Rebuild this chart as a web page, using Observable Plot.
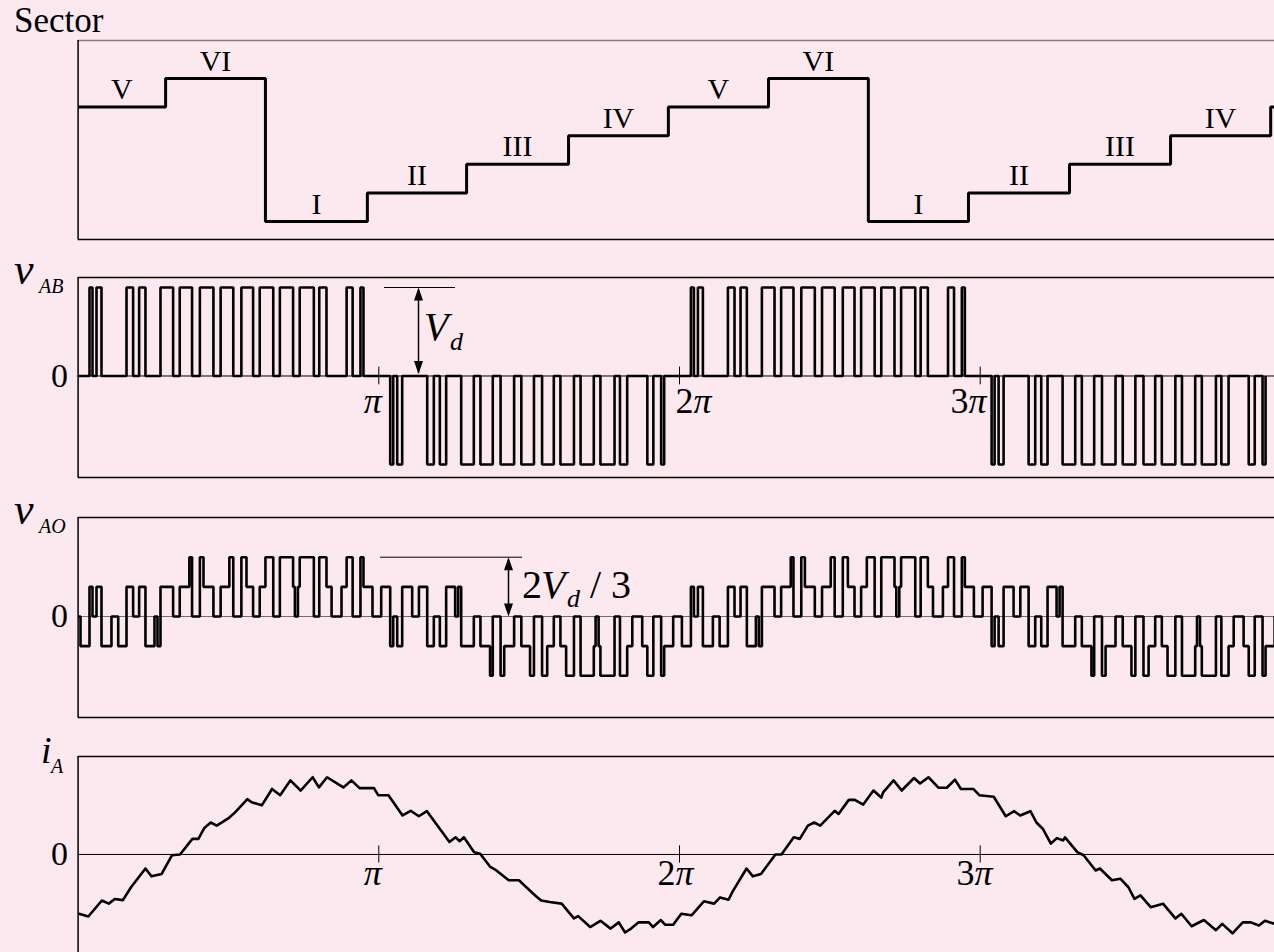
<!DOCTYPE html>
<html><head><meta charset="utf-8">
<script src="https://cdn.jsdelivr.net/npm/d3@7"></script>
<script src="https://cdn.jsdelivr.net/npm/@observablehq/plot@0.6"></script>
<style>
html,body{margin:0;padding:0;background:#fbe9ef;overflow:hidden;}
#wrap{position:relative;width:1274px;height:952px;overflow:hidden;font-family:"Liberation Serif","Times New Roman",serif;color:#000;}
.lbl{position:absolute;white-space:nowrap;line-height:1;}
</style></head><body><div id="wrap"></div>
<script>
// ---------- data (x in units of pi) ----------
const sectorT = [0, 0.291, 0.623, 0.962, 1.292, 1.631, 1.963, 2.296, 2.628, 2.961, 3.297, 3.633, 3.966];
const sectorV = [5, 6, 1, 2, 3, 4, 5, 6, 1, 2, 3, 4, 5];
const sectorLabel = ["V","VI","I","II","III","IV","V","VI","I","II","III","IV","V"];

// v_AB: pulse edges in the first half cycle (repeats with alternating sign each half cycle)
const vabRise = [0.0379, 0.0612, 0.161, 0.203, 0.274, 0.338, 0.405, 0.474, 0.543, 0.604, 0.671, 0.737, 0.802, 0.893, 0.939];
const vabFall = [0.0479, 0.0778, 0.183, 0.224, 0.316, 0.379, 0.450, 0.516, 0.582, 0.649, 0.715, 0.784, 0.826, 0.913, 0.949];
const halfCycles = [0, 1, 2, 3];

// v_AO: steps (x, level in Vd/3) in the first half cycle
const vaoHalf = [
  [0, 0], [0.008, -1], [0.0379, 1], [0.0479, 0], [0.0612, 1], [0.0778, -1], [0.111, 0], [0.1334, -1],
  [0.161, 1], [0.183, 0], [0.203, 1], [0.224, -1], [0.254, 0], [0.264, -1], [0.274, 1], [0.316, 0],
  [0.338, 1], [0.370, 2], [0.379, 0], [0.405, 2], [0.417, 1], [0.450, 0], [0.474, 1], [0.503, 2],
  [0.516, 0], [0.543, 2], [0.560, 1], [0.582, 0], [0.604, 1], [0.623, 2], [0.649, 0], [0.671, 2],
  [0.715, 1], [0.721, 0], [0.731, 1], [0.737, 2], [0.784, 0], [0.802, 2], [0.826, 1], [0.843, 0],
  [0.876, 1], [0.893, 2], [0.913, 0], [0.939, 2], [0.949, 1], [0.979, 0]
];

// i_A samples (x, current in per-unit of the peak)
const iA = [
  [0.003,-0.76],[0.034,-0.795],[0.079,-0.59],[0.102,-0.63],[0.122,-0.57],[0.149,-0.585],[0.176,-0.42],[0.224,-0.18],
  [0.244,-0.28],[0.278,-0.25],[0.312,-0.01],[0.339,0.0],[0.380,0.2],[0.400,0.2],[0.420,0.34],[0.441,0.41],
  [0.461,0.37],[0.502,0.47],[0.522,0.54],[0.563,0.71],[0.577,0.67],[0.611,0.63],[0.645,0.84],[0.672,0.76],
  [0.706,0.95],[0.740,0.82],[0.780,0.99],[0.801,0.86],[0.828,0.99],[0.882,0.86],[0.909,0.95],[0.936,0.85],
  [0.984,0.85],[0.998,0.76],[1.032,0.76],[1.079,0.5],[1.106,0.56],[1.133,0.49],[1.160,0.555],[1.215,0.265],
  [1.235,0.16],[1.255,0.22],[1.269,0.17],[1.283,0.22],[1.317,0.03],[1.337,0.01],[1.371,-0.16],[1.391,-0.205],
  [1.432,-0.33],[1.466,-0.33],[1.520,-0.525],[1.540,-0.59],[1.568,-0.61],[1.608,-0.63],[1.649,-0.82],[1.663,-0.79],
  [1.703,-0.93],[1.737,-0.85],[1.771,-0.95],[1.798,-0.87],[1.819,-1.0],[1.839,-0.95],[1.864,-0.87],[1.898,-0.87],
  [1.912,-0.93],[1.938,-0.84],[1.952,-0.90],[1.979,-0.90],[2.006,-0.76],[2.040,-0.78],[2.081,-0.60],[2.115,-0.63],
  [2.135,-0.55],[2.163,-0.58],[2.176,-0.48],[2.223,-0.18],[2.244,-0.28],[2.271,-0.25],[2.319,0.0],[2.339,0.0],
  [2.380,0.22],[2.400,0.2],[2.427,0.37],[2.448,0.41],[2.468,0.37],[2.516,0.56],[2.529,0.52],[2.563,0.70],
  [2.583,0.70],[2.611,0.64],[2.645,0.82],[2.671,0.73],[2.678,0.80],[2.712,0.95],[2.739,0.82],[2.780,0.98],
  [2.800,0.91],[2.828,0.99],[2.862,0.855],[2.889,0.855],[2.916,0.96],[2.936,0.84],[2.977,0.84],[2.997,0.76],
  [3.045,0.74],[3.085,0.49],[3.113,0.555],[3.133,0.5],[3.167,0.555],[3.187,0.41],[3.208,0.33],[3.235,0.14],
  [3.255,0.21],[3.276,0.18],[3.282,0.22],[3.323,0.03],[3.344,-0.01],[3.384,-0.205],[3.398,-0.18],[3.438,-0.33],
  [3.466,-0.31],[3.493,-0.42],[3.513,-0.57],[3.533,-0.525],[3.567,-0.675],[3.608,-0.63],[3.649,-0.82],[3.669,-0.76],
  [3.703,-0.92],[3.744,-0.84],[3.784,-0.97],[3.805,-0.89],[3.839,-1.01],[3.873,-0.87],[3.900,-0.87],[3.927,-0.91],
  [3.947,-0.85],[3.979,-0.89]
];

const piTicks = [1, 2, 3];
const piDigits = ["", "2", "3"];

// ---------- layout ----------
const wrap = document.getElementById("wrap");
const FONT = "Liberation Serif, Times New Roman, serif";
const W = 1274, X0 = 77.6, PXPI = 300.7;
const XMAX = (W - X0) / PXPI;
const px = (p) => (p - X0) / PXPI;

function panel(frameTop, frameBottom, yDomain, marks, topColor = "black") {
  const pad = 2;
  const svg = Plot.plot({
    width: W, height: frameBottom - frameTop + 2 * pad,
    marginLeft: X0, marginRight: 0, marginTop: pad, marginBottom: pad,
    x: {domain: [0, XMAX], axis: null},
    y: {domain: yDomain, axis: null},
    marks: [
      Plot.ruleY([yDomain[1]], {stroke: topColor, strokeWidth: 1.5}),
      Plot.ruleY([yDomain[0]], {stroke: "black", strokeWidth: 1.5}),
      Plot.ruleX([0], {stroke: "black", strokeWidth: 1.5}),
      ...marks
    ]
  });
  svg.style.position = "absolute";
  svg.style.left = "0px";
  svg.style.top = (frameTop - pad) + "px";
  svg.style.background = "transparent";
  svg.style.overflow = "visible";
  svg.style.maxWidth = "none";
  wrap.appendChild(svg);
}

function label(text, left, baseline, size, italic) {
  const d = document.createElement("div");
  d.className = "lbl";
  d.textContent = text;
  d.style.left = left + "px";
  d.style.top = (baseline - 0.8375 * size) + "px";
  d.style.fontSize = size + "px";
  if (italic) d.style.fontStyle = "italic";
  wrap.appendChild(d);
}

const triUp = {draw(ctx) { ctx.moveTo(0, 0); ctx.lineTo(-4.5, 13); ctx.lineTo(4.5, 13); ctx.closePath(); }};
const triDown = {draw(ctx) { ctx.moveTo(0, 0); ctx.lineTo(-4.5, -13); ctx.lineTo(4.5, -13); ctx.closePath(); }};
const wave = {stroke: "black", strokeWidth: 2.6, strokeLinejoin: "miter", strokeLinecap: "butt", curve: "step-after"};
const zeroLabel = () => Plot.text(["0"], {y: [0], frameAnchor: "left", dx: -10, textAnchor: "end", fontSize: 34, fontFamily: FONT, fill: "black"});

function piLabels(dxs, dyPx) {
  const rows = piTicks.map((k, i) => ({k, d: piDigits[i], dx: dxs[i]}));
  const marks = [];
  rows.forEach(r => {
    if (r.d) marks.push(Plot.text([r], {x: "k", y: () => 0, text: "d", dx: r.dx, dy: dyPx, textAnchor: "end", lineAnchor: "bottom", fontSize: 36, fontFamily: FONT}));
    marks.push(Plot.text([r], {x: "k", y: () => 0, text: () => "π", dx: r.dx, dy: dyPx, textAnchor: "start", lineAnchor: "bottom", fontSize: 36, fontFamily: FONT, fontStyle: "italic"}));
  });
  return marks;
}

// ---------- Sector ----------
const sectorPts = sectorT.map((t, i) => ({t, s: sectorV[i]}));
sectorPts.push({t: XMAX + 0.05, s: sectorV[sectorV.length - 1]});
const sectorLbls = sectorT.slice(0, -1).map((t, i) => ({x: (t + sectorT[i + 1]) / 2, s: sectorV[i], label: sectorLabel[i]}));
panel(40, 239, [0.371, 7.329], [
  Plot.line(sectorPts, {x: "t", y: "s", ...wave, strokeWidth: 3}),
  Plot.text(sectorLbls, {x: "x", y: "s", text: "label", dy: -8, lineAnchor: "bottom", fontSize: 30, fontFamily: FONT})
], "#808080");
label("Sector", 14, 32, 35, false);

// ---------- v_AB ----------
const vabPts = [{t: 0, v: 0}];
halfCycles.forEach(h => {
  const sgn = h % 2 ? -1 : 1;
  vabRise.forEach((r, i) => { vabPts.push({t: r + h, v: sgn}); vabPts.push({t: vabFall[i] + h, v: 0}); });
});
const xa = px(418);
panel(277, 477, [-1.147, 1.113], [
  Plot.ruleY([0], {stroke: "black", strokeWidth: 1}),
  Plot.ruleX(piTicks, {y1: -0.1, y2: 0.1, stroke: "black", strokeWidth: 1}),
  Plot.line(vabPts, {x: "t", y: "v", ...wave}),
  Plot.ruleY([1], {x1: px(384), x2: px(455), stroke: "black", strokeWidth: 1}),
  Plot.ruleX([xa], {y1: 0.03, y2: 0.97, stroke: "black", strokeWidth: 1.5}),
  Plot.dot([{x: xa, y: 1}], {x: "x", y: "y", symbol: triUp, fill: "black", stroke: "none"}),
  Plot.dot([{x: xa, y: 0}], {x: "x", y: "y", symbol: triDown, fill: "black", stroke: "none", dy: -2}),
  zeroLabel(),
  ...piLabels([-15, 14, -11.7], 37.5)
]);
label("v", 14, 285, 44, true);
label("AB", 39, 293, 20, true);
label("V", 424, 340, 40, true);
label("d", 450, 351, 26, true);

// ---------- v_AO ----------
const vaoPts = [];
halfCycles.forEach(h => {
  const sgn = h % 2 ? -1 : 1;
  vaoHalf.forEach(([t, l]) => vaoPts.push({t: t + h, v: sgn * l + 0}));
});
const xb = px(508);
panel(517, 717, [-3.406, 3.339], [
  Plot.ruleY([0], {stroke: "#707070", strokeWidth: 1}),
  Plot.line(vaoPts, {x: "t", y: "v", ...wave}),
  Plot.ruleY([2], {x1: px(380), x2: px(522), stroke: "black", strokeWidth: 1}),
  Plot.ruleX([xb], {y1: 0.1, y2: 1.9, stroke: "black", strokeWidth: 1.5}),
  Plot.dot([{x: xb, y: 2}], {x: "x", y: "y", symbol: triUp, fill: "black", stroke: "none"}),
  Plot.dot([{x: xb, y: 0}], {x: "x", y: "y", symbol: triDown, fill: "black", stroke: "none"}),
  zeroLabel()
]);
label("v", 14, 525, 44, true);
label("AO", 39, 533, 20, true);
label("2", 522, 598, 40, false);
label("V", 541, 598, 40, true);
label("d", 567, 608, 26, true);
label("/ 3", 590, 598, 40, false);

// ---------- i_A ----------
const iPts = iA.map(([t, v]) => ({t, v}));
panel(756, 960, [-1.359, 1.256], [
  Plot.ruleY([0], {stroke: "black", strokeWidth: 1}),
  Plot.ruleX(piTicks, {y1: -0.11, y2: 0.11, stroke: "black", strokeWidth: 1}),
  Plot.line(iPts, {x: "t", y: "v", stroke: "black", strokeWidth: 2.6, strokeLinejoin: "round"}),
  zeroLabel(),
  ...piLabels([-15, -4, -5.7], 31)
]);
label("i", 41, 763, 38, true);
label("A", 51, 773, 20, true);
</script></body></html>
